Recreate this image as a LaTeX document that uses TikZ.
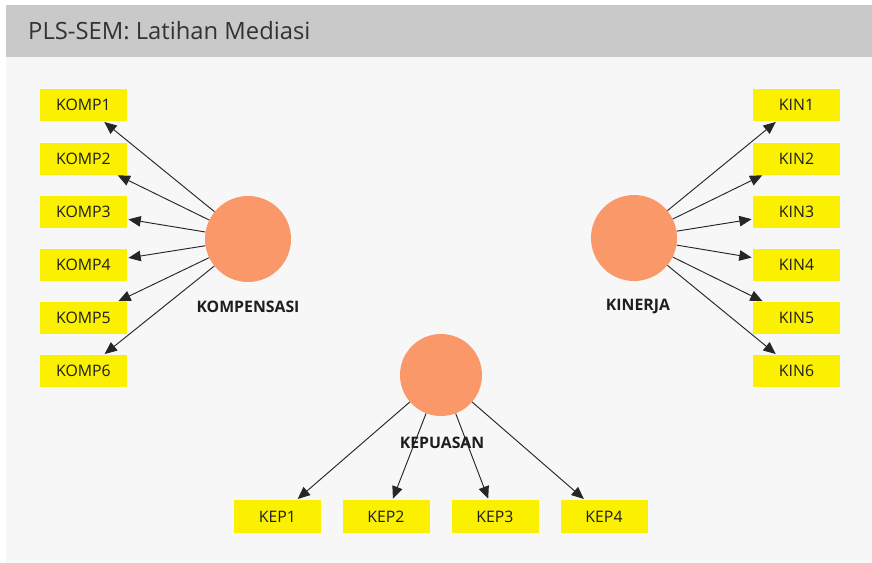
\documentclass[tikz,border=0pt]{standalone}
\usepackage{fontspec}
\setmainfont{Open Sans}
\usetikzlibrary{arrows.meta}

\definecolor{slidebg}{HTML}{F7F7F7}
\definecolor{titlebar}{HTML}{C9C9C9}
\definecolor{indyellow}{HTML}{FAF000}
\definecolor{latentorange}{HTML}{FA986A}
\definecolor{inktext}{HTML}{1E1E1E}

\begin{document}
\begin{tikzpicture}[x=0.03cm, y=-0.03cm,
        indicator/.style={fill=indyellow, minimum width=2.61cm, minimum height=0.96cm, inner sep=0pt, text=inktext, font=\fontsize{13.5}{15}\selectfont},
        latent/.style={circle, fill=latentorange, minimum size=2.58cm, inner sep=0pt},
        latentlabel/.style={text=inktext, font=\fontsize{13.5}{15}\selectfont\bfseries},
        loading/.style={draw=black!85, line width=0.8pt, shorten >=1pt, -{Triangle[length=10.5pt,width=9pt]}}]
    % slide background and title bar
    \fill[white] (0,0) rectangle (872,563);
    \fill[slidebg] (6,5) rectangle (872,563);
    \fill[titlebar] (6,5) rectangle (872,57);
    \node[anchor=base west, inner sep=0pt, text=black!80, font=\fontsize{20.3}{22}\selectfont] (title) at (28,40) {PLS-SEM: Latihan Mediasi};

    % latent variables
    \node[latent] (komp) at (248,239) {};
    \node[latentlabel] (kompname) at (248,307) {KOMPENSASI};
    \node[latent] (kin) at (634,238) {};
    \node[latentlabel] (kinname) at (638,306) {KINERJA};
    \node[latent, minimum size=2.46cm] (kep) at (441,375) {};
    \node[latentlabel] (kepname) at (442,443) {KEPUASAN};

    % indicators
    \foreach \i/\y in {1/105,2/158.5,3/212,4/265,5/318,6/371} {
        \node[indicator] (komp\i) at (83.5,\y) {KOMP\i};
        \node[indicator] (kin\i) at (796.5,\y) {KIN\i};
        \draw[loading] (komp) -- (komp\i);
        \draw[loading] (kin) -- (kin\i);
    }
    \foreach \i/\x in {1/277.5,2/386,3/495,4/604} {
        \node[indicator, minimum height=0.99cm] (kep\i) at (\x,516.5) {KEP\i};
        \draw[loading] (kep) -- (kep\i);
    }
\end{tikzpicture}
\end{document}
